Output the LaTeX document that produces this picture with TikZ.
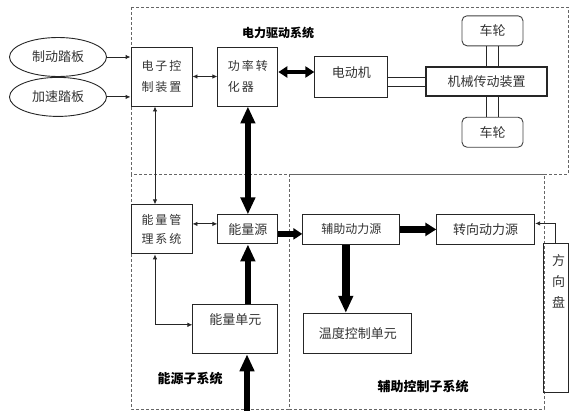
\documentclass[tikz,border=0pt]{standalone}
\usepackage{fontspec}
\setmainfont{Noto Sans CJK SC}
\usepackage{tikz}
\usetikzlibrary{arrows.meta,positioning,shapes}

\begin{document}
\begin{tikzpicture} [x=1pt, y=-1pt, color=black!85, text=black!80, line width=0.9pt,
	   >={Latex[length=5pt,width=4.5pt]},
	   every node/.style={font=\fontsize{13}{15}\selectfont},
	   block/.style 2 args = {rectangle, draw=black!85, minimum width=#1, minimum height=#2, inner sep=0pt},
	   pedal/.style = {ellipse, draw=black!85, minimum width=97pt, minimum height=39pt, inner sep=0pt},
	   wheel/.style = {rectangle, rounded corners=5pt, draw=black!75, minimum width=61pt,
	                   minimum height=30pt, inner sep=0pt},
	   subsystem/.style = {draw=black!60, line width=0.8pt, dash pattern=on 3pt off 2pt},
	   caption/.style = {font=\bfseries\fontsize{13}{15}\selectfont, text=black},
	   flow/.style = {line width=#1, draw=black},
	   bigtip/.tip = {Triangle[length=17pt,width=14pt]},
	   midtip/.tip = {Triangle[length=11pt,width=13pt]},
	   smalltip/.tip = {Triangle[length=9pt,width=11pt]}]
	\useasboundingbox (0,0) rectangle (583,418);

	%% Subsystem frames
	\draw[subsystem] (131,7) rectangle (568,174);
	\draw[subsystem] (131,174) rectangle (289,409);
	\draw[subsystem] (289,174) rectangle (544,409);
	\node[caption,font=\bfseries\fontsize{12}{14}\selectfont] (drivecap) at (278,33) {电力驱动系统};
	\node[caption] (energycap) at (190,379) {能源子系统};
	\node[caption] (auxcap) at (423,387) {辅助控制子系统};

	%% Pedals
	\node [pedal] (brake) at (58,57) {制动踏板};
	\node [pedal,below=0pt of brake] (accel) {加速踏板};

	%% Electric drive
	\node [block={61pt}{59pt},align=center,font=\fontsize{12}{21}\selectfont] (ecu) at (161.5,76.5)
	      {电\,子\,控\\制\,装\,置};
	\node [block={60pt}{59pt},align=left,font=\fontsize{12}{21}\selectfont,right=25pt of ecu] (conv)
	      {功\,率\,转\\化\,器\hphantom{\,转}};
	\node [block={73pt}{41pt},text depth=8pt,right=36pt of conv] (motor) {电动机};
	\node [block={121pt}{29pt},line width=1.5pt,right=37pt of motor,yshift=-5pt] (mech) {机械传动装置};
	\node [wheel,above=20pt of mech,xshift=6pt] (wheeltop) {车轮};
	\node [wheel,below=20pt of mech,xshift=6pt] (wheelbot) {车轮};

	%% Energy
	\node [block={61pt}{49pt},align=center,font=\fontsize{12}{19}\selectfont,below=98pt of ecu] (ems)
	      {能\,量\,管\\理\,系\,统};
	\node [block={60pt}{29pt},right=25pt of ems] (src) {能量源};
	\node [block={85pt}{49pt},text depth=20pt,below=60pt of src,xshift=-12.5pt] (unit) {能量单元};
	\coordinate (supply) at (247,411);

	%% Auxiliary control
	\node [block={97pt}{30pt},font=\fontsize{12}{14}\selectfont,right=24pt of src] (aux) {辅助动力源};
	\node [block={98pt}{30pt},right=36pt of aux] (steer) {转向动力源};
	\node [block={108pt}{40pt},below=68pt of aux,xshift=6.5pt] (temp) {温度控制单元};
	\node [block={25pt}{149pt},
	       label={[align=center,anchor=north,yshift=-8pt,xshift=3pt,font=\fontsize{13}{21}\selectfont]north:方\\向\\盘}]
	      (wheel) at (555.5,317.5) {};

	%% Signal paths
	\draw[->] (brake.east) -- (brake.east -| ecu.west);
	\draw[->] (accel.east) -- (accel.east -| ecu.west);
	\draw[<->] (ecu.east) -- (conv.west);
	\draw[<->] ([xshift=-6.5pt]ecu.south) -- ([xshift=-6.5pt]ems.north);
	\draw[<->] ([yshift=5.5pt]ems.east) -- ([yshift=5.5pt]ems.east -| src.west);
	\draw[<->] ([xshift=-6.5pt]ems.south) |- ([yshift=4.5pt]unit.west);
	\draw[->] (wheel.north) |- ([yshift=6pt]steer.east);

	%% Mechanical links
	\draw ([yshift=4.5pt]mech.west) -- ([yshift=4.5pt]mech.west -| motor.east);
	\draw ([yshift=-4.5pt]mech.west) -- ([yshift=-4.5pt]mech.west -| motor.east);
	\draw ([xshift=-6pt]wheeltop.south) -- ([xshift=-6pt]wheeltop.south |- mech.north);
	\draw ([xshift=6pt]wheeltop.south) -- ([xshift=6pt]wheeltop.south |- mech.north);
	\draw ([xshift=-6pt]wheelbot.north) -- ([xshift=-6pt]wheelbot.north |- mech.south);
	\draw ([xshift=6pt]wheelbot.north) -- ([xshift=6pt]wheelbot.north |- mech.south);

	%% Power paths
	\draw[flow=4pt,smalltip-smalltip] ([yshift=4.5pt]conv.east) -- ([yshift=4.5pt]conv.east -| motor.west);
	\draw[flow=6.5pt,bigtip-bigtip] (conv.south) -- (src.north);
	\draw[flow=6.5pt,-bigtip] (unit.north -| src.south) -- (src.south);
	\draw[flow=6.5pt,-bigtip] (supply) -- (supply |- unit.south);
	\draw[flow=5.5pt,-smalltip] ([yshift=-4.5pt]src.east) -- ([yshift=-4.5pt]src.east -| aux.west);
	\draw[flow=6.5pt,-midtip] (aux.east) -- (steer.west);
	\draw[flow=7.5pt,-bigtip] ([xshift=-5.5pt]aux.south) -- ([xshift=-5.5pt]aux.south |- temp.north);
\end{tikzpicture}
\end{document}
